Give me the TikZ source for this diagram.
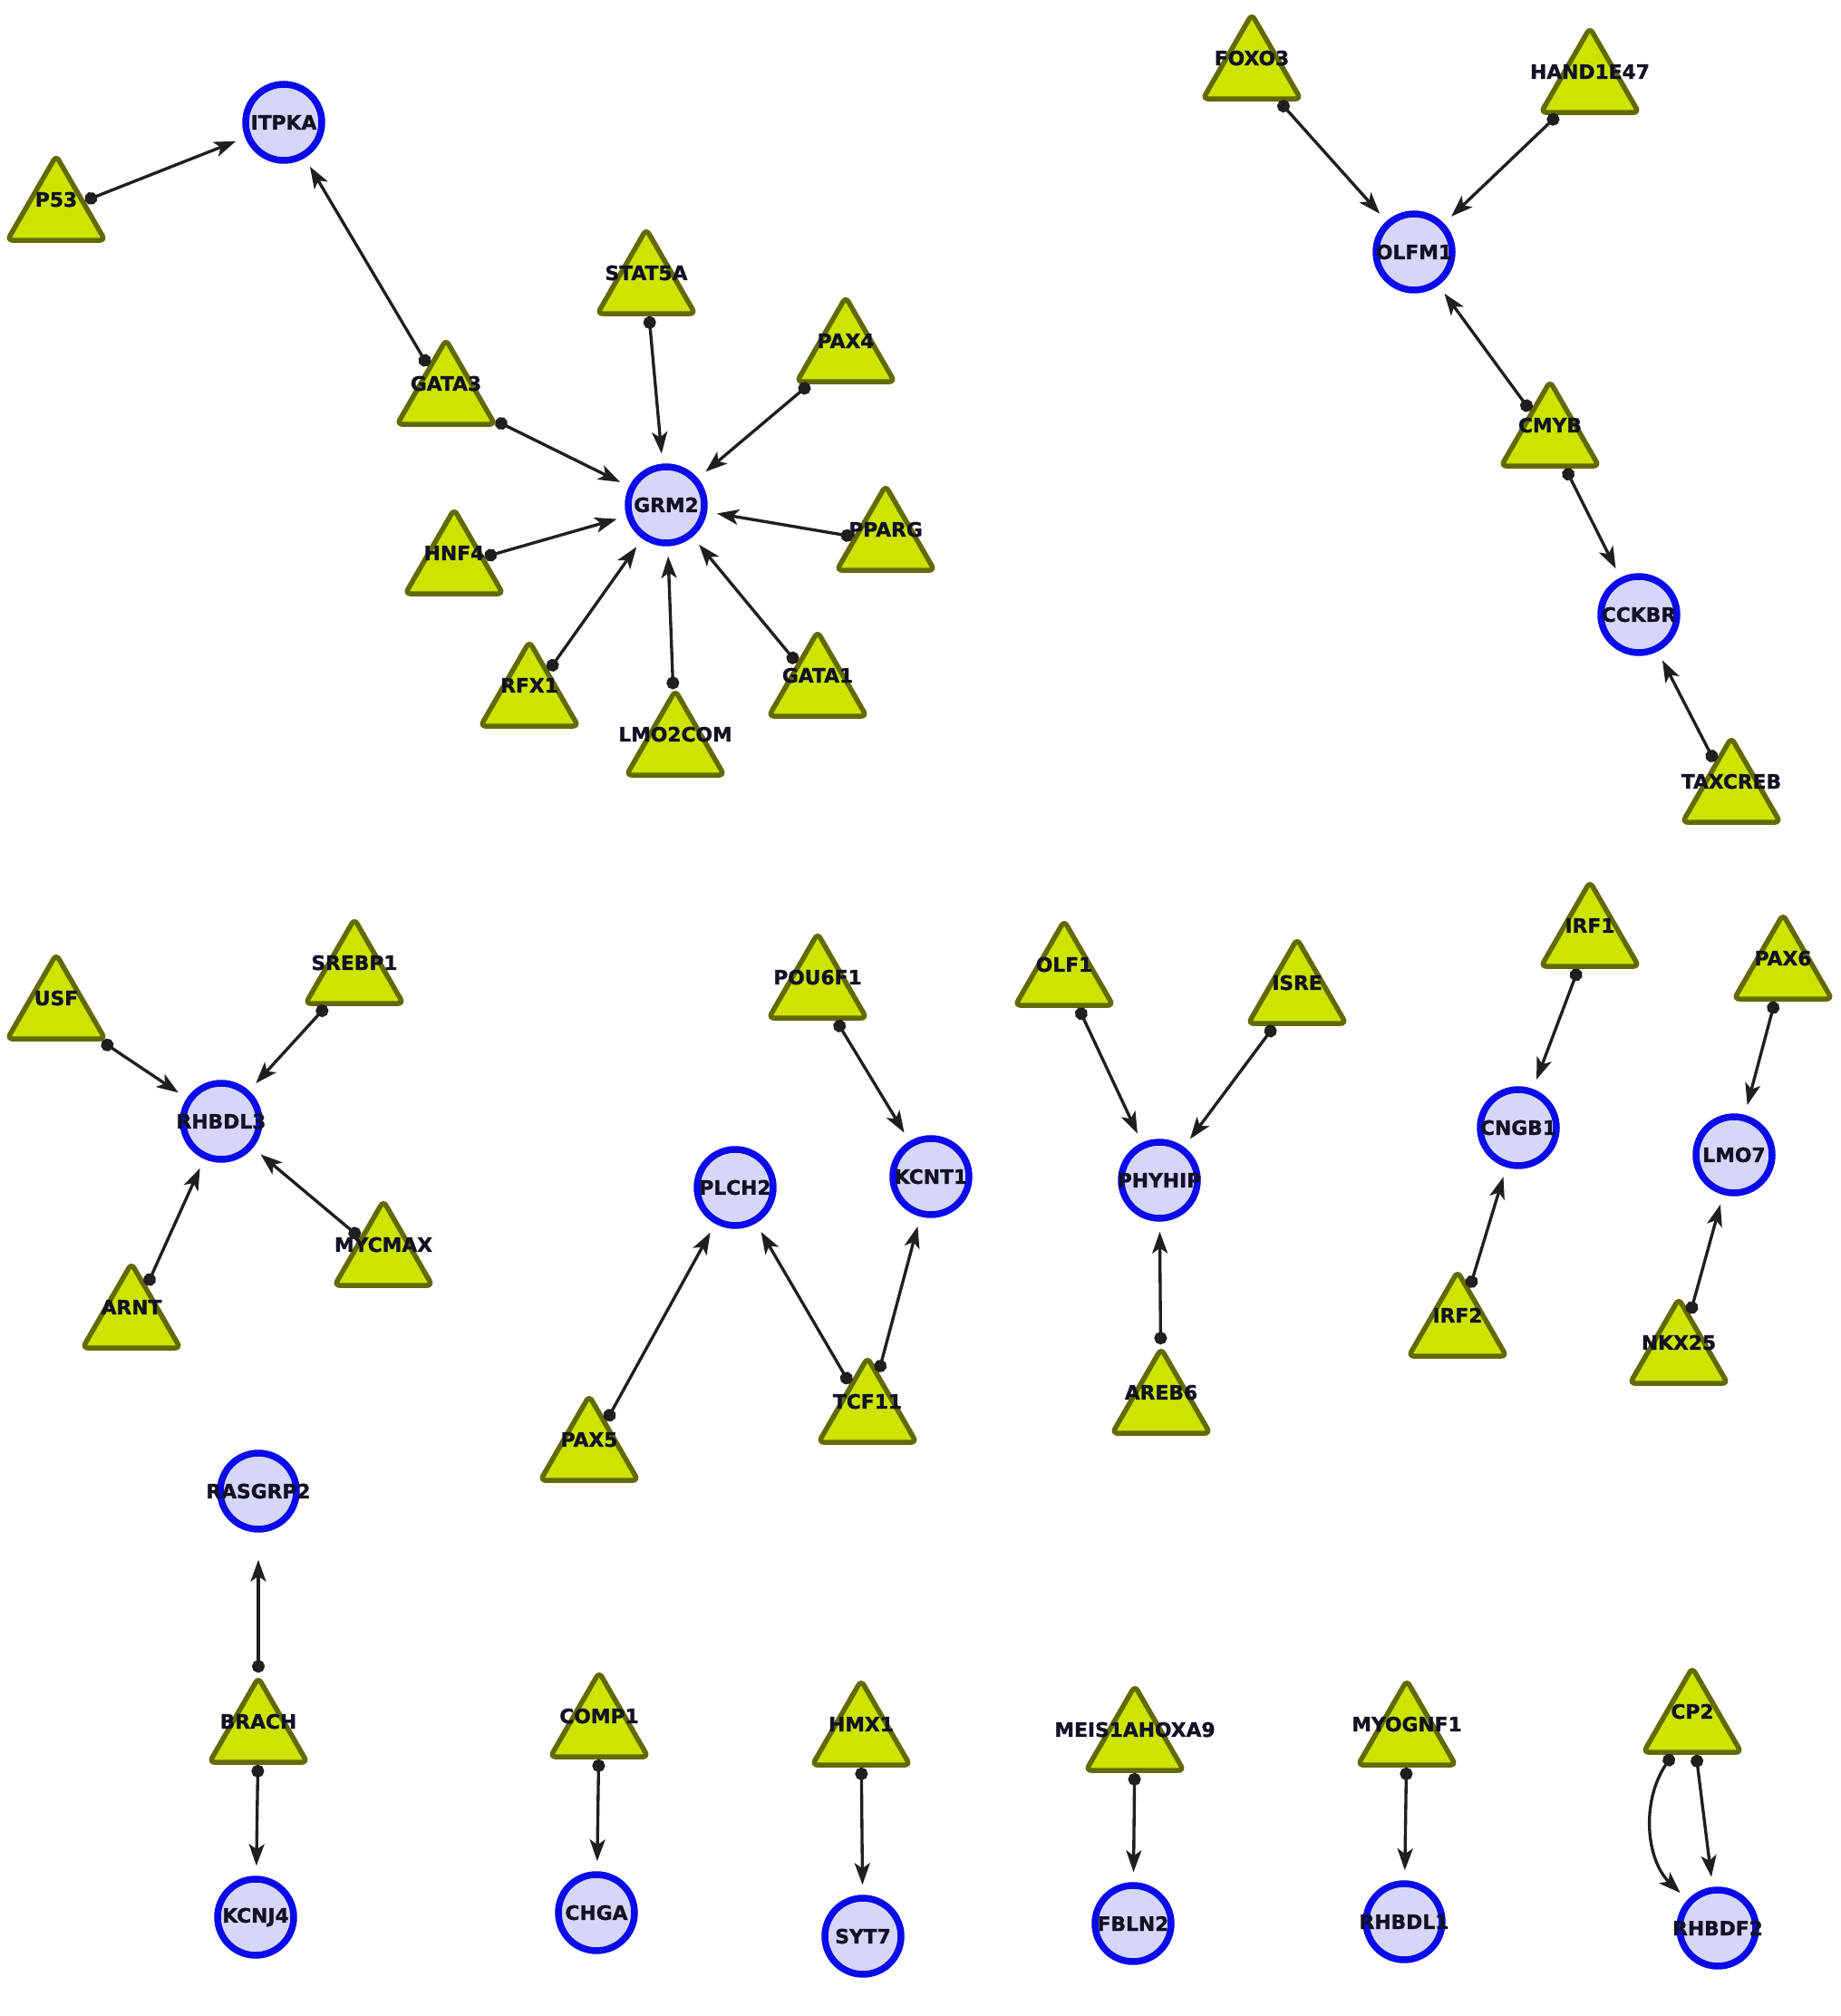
\documentclass[tikz,border=0pt]{standalone}
\usepackage{fontspec}
\newfontfamily\genefont{DejaVu Sans}[BoldFeatures={FakeBold=1.2}]
\definecolor{tfgreen}{RGB}{204,228,0}
\definecolor{tfedge}{RGB}{98,106,0}
\definecolor{geneblue}{RGB}{10,10,235}
\definecolor{genefill}{RGB}{214,214,248}
\definecolor{labelink}{RGB}{18,18,36}
\usetikzlibrary{arrows.meta,positioning,shapes.geometric}

\begin{document}
\begin{tikzpicture}[
  lbl/.style={font=\genefont\bfseries\fontsize{6.2}{7}\selectfont, text=labelink,
    execute at begin node={\hbox to 0pt\bgroup\hss},
    execute at end node={\hss\egroup}},
  gene/.style={lbl, circle, draw=geneblue, fill=genefill, line width=0.75mm,
    minimum size=8.4mm, inner sep=0pt},
  tf/.style={lbl, regular polygon, regular polygon sides=3, draw=tfedge, fill=tfgreen,
    line width=0.55mm, rounded corners=0.6mm, minimum size=11mm, inner sep=0pt,
    text height=1.6mm, text depth=2.8mm},
  reg/.style={{Circle[length=1.4mm]}-{Stealth[length=2.4mm,width=1.7mm,inset=0.6mm]},
    line width=0.95pt, draw=black!88, shorten >=1.1mm}
]
  \fill[white] (0,0) rectangle (20.31,22.24);

  % ITPKA / GRM2 cluster
  \node[gene] (itpka) at (3.13,20.89) {ITPKA};
  \node[gene] (grm2) at (7.35,16.67) {GRM2};
  \node[tf] (p53) at (0.62,19.90) {P53};
  \node[tf] (gata3) at (4.92,17.87) {GATA3};
  \node[tf] (stat5a) at (7.13,19.09) {STAT5A};
  \node[tf] (pax4) at (9.33,18.34) {PAX4};
  \node[tf] (hnf4) at (5.01,16.00) {HNF4};
  \node[tf] (pparg) at (9.77,16.26) {PPARG};
  \node[tf] (rfx1) at (5.84,14.54) {RFX1};
  \node[tf] (lmo2com) at (7.45,14.00) {LMO2COM};
  \node[tf] (gata1) at (9.02,14.65) {GATA1};
  \draw[reg] (p53) -- (itpka);
  \draw[reg] (gata3) -- (itpka);
  \draw[reg] (gata3) -- (grm2);
  \draw[reg] (stat5a) -- (grm2);
  \draw[reg] (pax4) -- (grm2);
  \draw[reg] (pparg) -- (grm2);
  \draw[reg] (gata1) -- (grm2);
  \draw[reg] (lmo2com) -- (grm2);
  \draw[reg] (rfx1) -- (grm2);
  \draw[reg] (hnf4) -- (grm2);

  % OLFM1 / CCKBR chain
  \node[gene] (olfm1) at (15.60,19.46) {OLFM1};
  \node[gene] (cckbr) at (18.08,15.46) {CCKBR};
  \node[tf] (foxo3) at (13.81,21.46) {FOXO3};
  \node[tf] (hand1e47) at (17.54,21.31) {HAND1E47};
  \node[tf] (cmyb) at (17.10,17.41) {CMYB};
  \node[tf] (taxcreb) at (19.10,13.48) {TAXCREB};
  \draw[reg] (foxo3) -- (olfm1);
  \draw[reg] (hand1e47) -- (olfm1);
  \draw[reg] (cmyb) -- (olfm1);
  \draw[reg] (cmyb) -- (cckbr);
  \draw[reg] (taxcreb) -- (cckbr);

  % RHBDL3 star
  \node[gene] (rhbdl3) at (2.44,9.87) {RHBDL3};
  \node[tf] (usf) at (0.62,11.09) {USF};
  \node[tf] (srebp1) at (3.91,11.48) {SREBP1};
  \node[tf] (mycmax) at (4.23,8.37) {MYCMAX};
  \node[tf] (arnt) at (1.45,7.68) {ARNT};
  \draw[reg] (usf) -- (rhbdl3);
  \draw[reg] (srebp1) -- (rhbdl3);
  \draw[reg] (mycmax) -- (rhbdl3);
  \draw[reg] (arnt) -- (rhbdl3);

  % PLCH2 / KCNT1
  \node[gene] (plch2) at (8.11,9.14) {PLCH2};
  \node[gene] (kcnt1) at (10.27,9.26) {KCNT1};
  \node[tf] (pou6f1) at (9.02,11.32) {POU6F1};
  \node[tf] (tcf11) at (9.57,6.64) {TCF11};
  \node[tf] (pax5) at (6.50,6.22) {PAX5};
  \draw[reg] (pou6f1) -- (kcnt1);
  \draw[reg] (tcf11) -- (kcnt1);
  \draw[reg] (tcf11) -- (plch2);
  \draw[reg] (pax5) -- (plch2);

  % PHYHIP
  \node[gene] (phyhip) at (12.79,9.22) {PHYHIP};
  \node[tf] (olf1) at (11.74,11.46) {OLF1};
  \node[tf] (isre) at (14.31,11.26) {ISRE};
  \node[tf] (areb6) at (12.81,6.74) {AREB6};
  \draw[reg] (olf1) -- (phyhip);
  \draw[reg] (isre) -- (phyhip);
  \draw[reg] (areb6) -- (phyhip);

  % CNGB1 and LMO7
  \node[gene] (cngb1) at (16.75,9.80) {CNGB1};
  \node[tf] (irf1) at (17.54,11.89) {IRF1};
  \node[tf] (irf2) at (16.08,7.59) {IRF2};
  \draw[reg] (irf1) -- (cngb1);
  \draw[reg] (irf2) -- (cngb1);
  \node[gene] (lmo7) at (19.13,9.50) {LMO7};
  \node[tf] (pax6) at (19.67,11.53) {PAX6};
  \node[tf] (nkx25) at (18.52,7.29) {NKX25};
  \draw[reg] (pax6) -- (lmo7);
  \draw[reg] (nkx25) -- (lmo7);

  % bottom row
  \node[gene] (rasgrp2) at (2.85,5.79) {RASGRP2};
  \node[tf] (brach) at (2.85,3.11) {BRACH};
  \node[gene] (kcnj4) at (2.82,1.09) {KCNJ4};
  \draw[reg, shorten >=3mm] (brach) -- (rasgrp2);
  \draw[reg] (brach) -- (kcnj4);

  \node[tf] (comp1) at (6.61,3.17) {COMP1};
  \node[gene] (chga) at (6.58,1.14) {CHGA};
  \draw[reg] (comp1) -- (chga);

  \node[tf] (hmx1) at (9.50,3.08) {HMX1};
  \node[gene] (syt7) at (9.52,0.88) {SYT7};
  \draw[reg] (hmx1) -- (syt7);

  \node[tf] (meis1ahoxa9) at (12.52,3.02) {MEIS1AHOXA9};
  \node[gene] (fbln2) at (12.50,1.02) {FBLN2};
  \draw[reg] (meis1ahoxa9) -- (fbln2);

  \node[tf] (myognf1) at (15.52,3.08) {MYOGNF1};
  \node[gene] (rhbdl1) at (15.49,1.04) {RHBDL1};
  \draw[reg] (myognf1) -- (rhbdl1);

  \node[tf] (cp2) at (18.67,3.22) {CP2};
  \node[gene] (rhbdf2) at (18.95,0.97) {RHBDF2};
  \draw[reg] (cp2) -- (rhbdf2);
  \draw[reg] (cp2) to[bend right=40] (rhbdf2);
\end{tikzpicture}
\end{document}
